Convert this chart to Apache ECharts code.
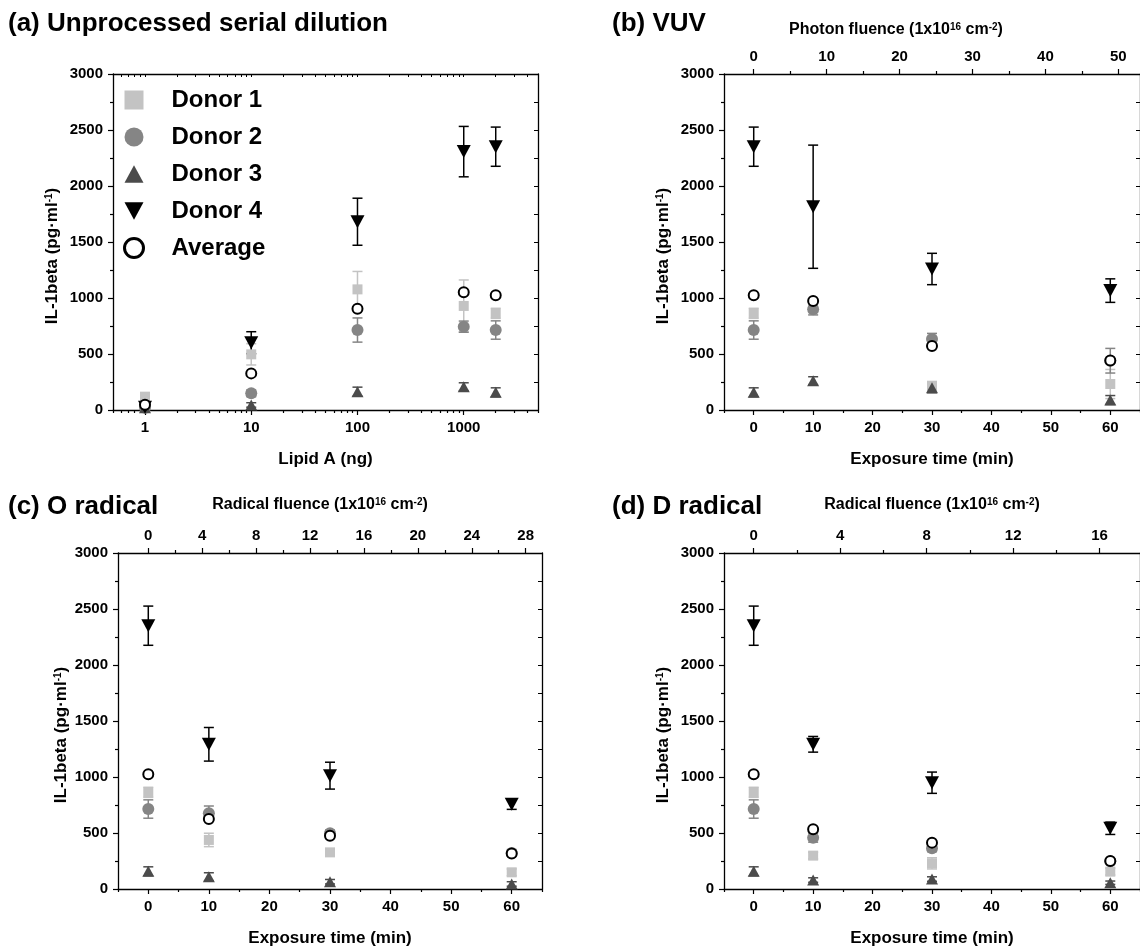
<!DOCTYPE html>
<html>
<head>
<meta charset="utf-8">
<script src="https://cdn.jsdelivr.net/npm/echarts@6/dist/echarts.min.js"></script>
<style>
  html, body { margin: 0; padding: 0; background: #fff; }
  #chart { width: 1140px; height: 949px; }
</style>
</head>
<body>
<div id="chart"></div>
<script>
const FONT = '"Liberation Sans", Arial, Helvetica, sans-serif';

// ---- x positions ----
const lipidA = [1, 10, 100, 1000, 2000];      // ng
const exposureMin = [0, 10, 30, 60];          // min

// ---- (a) unprocessed serial dilution, IL-1beta (pg/ml) ----
const a_d1 = [119, 497, 1077, 929, 863];
const a_d1Err = [25, 95, 160, 232, 45];
const a_d2 = [20, 149, 714, 744, 714];
const a_d2Err = [10, 30, 108, 50, 82];
const a_d3 = [20, 45, 164, 208, 158];
const a_d3Err = [10, 20, 40, 35, 40];
const a_d4 = [25, 601, 1681, 2307, 2351];
const a_d4Err = [10, 98, 210, 225, 175];
const a_avg = [46, 327, 905, 1051, 1024];

// ---- (b) VUV ----
const b_d1 = [863, 910, 217, 232];
const b_d1Err = [45, 40, 30, 130];
const b_d2 = [714, 899, 634, 440];
const b_d2Err = [82, 50, 50, 110];
const b_d3 = [158, 262, 199, 89];
const b_d3Err = [40, 35, 45, 40];
const b_d4 = [2351, 1815, 1259, 1066];
const b_d4Err = [175, 550, 140, 105];
const b_avg = [1024, 973, 571, 441];

// ---- (c) O radical ----
const c_d1 = [863, 438, 327, 149];
const c_d1Err = [45, 60, 30, 30];
const c_d2 = [714, 676, 497, 322];
const c_d2Err = [82, 65, 30, 30];
const c_d3 = [158, 110, 65, 45];
const c_d3Err = [40, 35, 20, 20];
const c_d4 = [2351, 1292, 1012, 756];
const c_d4Err = [175, 150, 120, 45];
const c_avg = [1024, 625, 476, 318];

// ---- (d) D radical ----
const d_d1 = [863, 298, 229, 155];
const d_d1Err = [45, 30, 50, 30];
const d_d2 = [714, 458, 363, 247];
const d_d2Err = [82, 40, 30, 20];
const d_d3 = [158, 80, 89, 56];
const d_d3Err = [40, 20, 20, 15];
const d_d4 = [2351, 1292, 949, 542];
const d_d4Err = [175, 70, 95, 55];
const d_avg = [1024, 533, 414, 250];

// ---- axis tick labels ----
const lipidTicks = [1, 10, 100, 1000];
const timeTicks = [0, 10, 20, 30, 40, 50, 60];
const timeMinorTicks = [-5, 5, 15, 25, 35, 45, 55, 65];
const vuvTicks = [0, 10, 20, 30, 40, 50];
const vuvMinorTicks = [5, 15, 25, 35, 45];
const oTicks = [0, 4, 8, 12, 16, 20, 24, 28];
const oMinorTicks = [2, 6, 10, 14, 18, 22, 26];
const dTicks = [0, 4, 8, 12, 16];
const dMinorTicks = [2, 6, 10, 14];

// fluence accumulated per minute of exposure (1e16 cm^-2 / min)
const vuvPerMin = 0.815;
const oPerMin = 0.4494;
const dPerMin = 0.2749;

const TIME_MIN = -5, TIME_MAX = 65;

const donorNames = ['Donor 1', 'Donor 2', 'Donor 3', 'Donor 4'];
const donorLook = [
  { symbol: 'path://M0,0L10,0L10,10L0,10Z', size: 10, color: '#c3c3c3' },
  { symbol: 'circle', size: 12, color: '#858585' },
  { symbol: 'path://M6,0L12,11L0,11Z', size: [12, 11], color: '#4b4b4b' },
  { symbol: 'path://M0,0L12,0L6,11Z', size: [14, 13], color: '#000000' }
];

const lineStyle = { color: '#000', width: 1.3 };
const tickLine = { color: '#000', width: 1.2 };
const labelText = { color: '#000', fontSize: 15, fontWeight: 'bold', fontFamily: FONT };
const supRich = { sup: { fontSize: 10, fontWeight: 'bold', fontFamily: FONT, color: '#000', verticalAlign: 'top' } };
const plainFmt = v => String(v);

// log-axis minor ticks (2..9 x 10^k) inside [lo, hi]
function logMinor(lo, hi) {
  const out = [];
  for (let k = -1; k <= 4; k++) {
    for (let m = 2; m <= 9; m++) {
      const v = +(m * Math.pow(10, k)).toPrecision(6);
      if (v >= lo && v <= hi) out.push(v);
    }
  }
  return out;
}

const grids = [], xAxes = [], yAxes = [], series = [];

function addPanel(p) {
  const gi = grids.length;
  grids.push(Object.assign({ containLabel: false }, p.rect));

  const isLog = p.kind === 'log';
  const xMin = isLog ? 0.5 : TIME_MIN;
  const xMax = isLog ? 5000 : TIME_MAX;
  const base = {
    gridIndex: gi, type: isLog ? 'log' : 'value', logBase: 10, min: xMin, max: xMax,
    splitLine: { show: false }, minorTick: { show: false }
  };
  const majors = isLog ? lipidTicks : timeTicks;
  const minors = isLog ? logMinor(xMin, xMax) : timeMinorTicks;

  // bottom axis with labels and major ticks
  const xi = xAxes.length;
  xAxes.push(Object.assign({}, base, {
    position: 'bottom',
    axisLine: { show: true, onZero: false, lineStyle },
    axisTick: { show: true, length: 5, customValues: majors, lineStyle: tickLine },
    axisLabel: Object.assign({ customValues: majors, margin: 10, formatter: plainFmt }, labelText),
    name: p.xName, nameLocation: 'middle', nameGap: 41,
    nameTextStyle: { color: '#000', fontSize: 17, fontWeight: 'bold', fontFamily: FONT }
  }));
  // bottom minor ticks
  xAxes.push(Object.assign({}, base, {
    position: 'bottom',
    axisLine: { show: false, onZero: false },
    axisTick: { show: true, length: 3, customValues: minors, lineStyle: tickLine },
    axisLabel: { show: false }
  }));

  if (isLog) {
    // plain top frame with small inward ticks
    xAxes.push(Object.assign({}, base, {
      position: 'top',
      axisLine: { show: true, onZero: false, lineStyle },
      axisTick: { show: true, inside: true, length: 3, customValues: majors.concat(minors), lineStyle: { color: '#000', width: 1 } },
      axisLabel: { show: false }
    }));
  } else {
    const tBase = {
      gridIndex: gi, type: 'value', min: TIME_MIN * p.perMin, max: TIME_MAX * p.perMin,
      position: 'top', splitLine: { show: false }, minorTick: { show: false }
    };
    xAxes.push(Object.assign({}, tBase, {
      axisLine: { show: true, onZero: false, lineStyle },
      axisTick: { show: true, length: 5, customValues: p.topTicks, lineStyle: tickLine },
      axisLabel: Object.assign({ customValues: p.topTicks, margin: 10, formatter: plainFmt }, labelText),
      name: p.topName, nameLocation: 'middle', nameGap: p.topNameGap,
      nameTextStyle: {
        color: '#000', fontSize: 16, fontWeight: 'bold', fontFamily: FONT,
        padding: [0, p.topNamePad, 0, 0], rich: supRich
      }
    }));
    xAxes.push(Object.assign({}, tBase, {
      axisLine: { show: false, onZero: false },
      axisTick: { show: true, length: 3, customValues: p.topMinor, lineStyle: tickLine },
      axisLabel: { show: false }
    }));
  }

  const yi = yAxes.length;
  yAxes.push({
    gridIndex: gi, type: 'value', min: 0, max: 3000, interval: 500, position: 'left',
    axisLine: { show: true, onZero: false, lineStyle },
    axisTick: { show: true, length: 5, lineStyle: tickLine },
    minorTick: { show: true, splitNumber: 2, length: 3, lineStyle: tickLine },
    splitLine: { show: false },
    axisLabel: Object.assign({ margin: 10, formatter: plainFmt }, labelText),
    name: 'IL-1beta (pg·ml{sup|-1})', nameLocation: 'middle', nameRotate: 90, nameGap: p.yNameGap,
    nameTextStyle: {
      color: '#000', fontSize: 17, fontWeight: 'bold', fontFamily: FONT,
      padding: [0, 28, 0, 0], rich: supRich
    }
  });
  yAxes.push({
    gridIndex: gi, type: 'value', min: 0, max: 3000, interval: 250, position: 'right',
    axisLine: { show: true, onZero: false, lineStyle },
    axisTick: { show: true, inside: true, length: 4, lineStyle: { color: '#000', width: 1 } },
    splitLine: { show: false },
    axisLabel: { show: false }
  });

  // error bars first, markers on top
  p.donors.forEach((vals, k) => {
    const errs = p.errs[k];
    const color = donorLook[k].color;
    series.push({
      type: 'custom', name: donorNames[k] + ' SD', xAxisIndex: xi, yAxisIndex: yi,
      silent: true, z: 1,
      data: p.xs.map((x, i) => [x, Math.max(vals[i] - errs[i], 0), vals[i] + errs[i]]),
      encode: { x: 0, y: [1, 2] },
      renderItem: (params, api) => {
        const lo = api.coord([api.value(0), api.value(1)]);
        const hi = api.coord([api.value(0), api.value(2)]);
        const w = 5;
        const st = { stroke: color, lineWidth: 1.5 };
        return {
          type: 'group', children: [
            { type: 'line', shape: { x1: lo[0], y1: lo[1], x2: hi[0], y2: hi[1] }, style: st },
            { type: 'line', shape: { x1: hi[0] - w, y1: hi[1], x2: hi[0] + w, y2: hi[1] }, style: st },
            { type: 'line', shape: { x1: lo[0] - w, y1: lo[1], x2: lo[0] + w, y2: lo[1] }, style: st }
          ]
        };
      }
    });
  });
  p.donors.forEach((vals, k) => {
    const look = donorLook[k];
    series.push({
      type: 'scatter', name: donorNames[k], xAxisIndex: xi, yAxisIndex: yi, z: 3 + k,
      symbol: look.symbol, symbolSize: look.size,
      itemStyle: { color: look.color, opacity: 1 },
      data: p.xs.map((x, i) => [x, vals[i]])
    });
  });
  series.push({
    type: 'scatter', name: 'Average', xAxisIndex: xi, yAxisIndex: yi, z: 8,
    symbol: 'circle', symbolSize: 10,
    itemStyle: { color: '#fff', borderColor: '#000', borderWidth: 2, opacity: 1 },
    data: p.xs.map((x, i) => [x, p.avg[i]])
  });
}

addPanel({
  rect: { left: 113, top: 74, width: 425, height: 336 }, kind: 'log', xs: lipidA,
  xName: 'Lipid A (ng)', yNameGap: 52,
  donors: [a_d1, a_d2, a_d3, a_d4], errs: [a_d1Err, a_d2Err, a_d3Err, a_d4Err], avg: a_avg
});
addPanel({
  rect: { left: 724, top: 74, width: 425, height: 336 }, kind: 'time', xs: exposureMin,
  xName: 'Exposure time (min)', yNameGap: 52,
  perMin: vuvPerMin, topTicks: vuvTicks, topMinor: vuvMinorTicks,
  topName: 'Photon fluence (1x10{sup|16} cm{sup|-2})', topNameGap: 36, topNamePad: 72,
  donors: [b_d1, b_d2, b_d3, b_d4], errs: [b_d1Err, b_d2Err, b_d3Err, b_d4Err], avg: b_avg
});
addPanel({
  rect: { left: 118, top: 553, width: 424, height: 336 }, kind: 'time', xs: exposureMin,
  xName: 'Exposure time (min)', yNameGap: 48,
  perMin: oPerMin, topTicks: oTicks, topMinor: oMinorTicks,
  topName: 'Radical fluence (1x10{sup|16} cm{sup|-2})', topNameGap: 40, topNamePad: 20,
  donors: [c_d1, c_d2, c_d3, c_d4], errs: [c_d1Err, c_d2Err, c_d3Err, c_d4Err], avg: c_avg
});
addPanel({
  rect: { left: 724, top: 553, width: 425, height: 336 }, kind: 'time', xs: exposureMin,
  xName: 'Exposure time (min)', yNameGap: 52,
  perMin: dPerMin, topTicks: dTicks, topMinor: dMinorTicks,
  topName: 'Radical fluence (1x10{sup|16} cm{sup|-2})', topNameGap: 40, topNamePad: 0,
  donors: [d_d1, d_d2, d_d3, d_d4], errs: [d_d1Err, d_d2Err, d_d3Err, d_d4Err], avg: d_avg
});

const titleText = { color: '#000', fontSize: 26, fontWeight: 'bold', fontFamily: FONT };
const option = {
  animation: false,
  backgroundColor: '#fff',
  textStyle: { fontFamily: FONT },
  title: [
    { text: '(a) Unprocessed serial dilution', left: 3, top: 6, textStyle: titleText },
    { text: '(b) VUV', left: 607, top: 6, textStyle: titleText },
    { text: '(c) O radical', left: 3, top: 489, textStyle: titleText },
    { text: '(d) D radical', left: 607, top: 489, textStyle: titleText }
  ],
  legend: {
    orient: 'vertical', left: 118, top: 83, itemWidth: 19, itemHeight: 19, itemGap: 13,
    symbolKeepAspect: true, selectedMode: false,
    textStyle: { color: '#000', fontSize: 24, fontWeight: 'bold', fontFamily: FONT, padding: [0, 0, 0, 23] },
    data: [
      { name: 'Donor 1' }, { name: 'Donor 2' }, { name: 'Donor 3' }, { name: 'Donor 4' },
      { name: 'Average', itemStyle: { borderWidth: 3 } }
    ]
  },
  grid: grids,
  xAxis: xAxes,
  yAxis: yAxes,
  series: series
};

const chart = echarts.init(document.getElementById('chart'), null, { renderer: 'canvas' });
chart.setOption(option);
</script>
</body>
</html>
